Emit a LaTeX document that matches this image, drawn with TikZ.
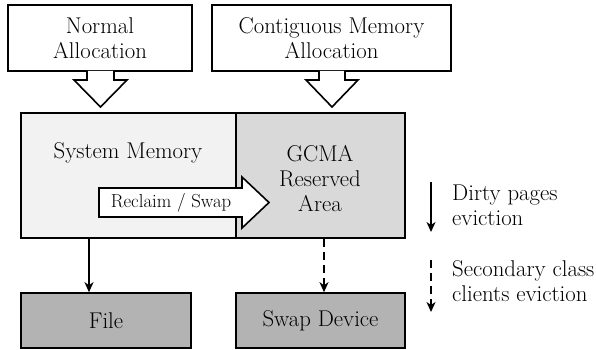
\documentclass[tikz,border=0pt]{standalone}
\usetikzlibrary{arrows.meta}
\definecolor{sysfill}{HTML}{F2F2F2}
\definecolor{gcmafill}{HTML}{D9D9D9}
\definecolor{devfill}{HTML}{B3B3B3}
\begin{document}
\begin{tikzpicture}[x=1pt,y=-1pt,
  txt/.style={font=\fontsize{22.8}{25}\selectfont},
  box/.style={txt, draw, line width=1.6pt, inner sep=0pt, align=center},
  blockarrow/.style={draw, fill=white, line width=1.6pt, line join=miter},
  arr/.style={line width=1.6pt, -{Stealth[length=10pt,width=9pt,inset=3pt]}},
  dasharr/.style={arr, dash pattern=on 8pt off 5pt},
  lbl/.style={txt, align=left, anchor=west, inner sep=0pt}]
\useasboundingbox (0,0) rectangle (596,350);
% top boxes
\node[box, minimum width=184pt, minimum height=66pt] (na) at (100,38) {Normal\\Allocation};
\node[box, minimum width=239pt, minimum height=66pt] (ca) at (331.5,38) {Contiguous Memory\\Allocation};
% memory
\node[box, fill=sysfill, minimum width=215pt, minimum height=125pt] (sys) at (128.5,175.5) {};
\node[box, fill=gcmafill, minimum width=169pt, minimum height=125pt] (gcma) at (320.5,175.5) {};
\node[txt] (systxt) at (128,153) {System Memory};
\node[txt, align=center, inner sep=0pt] (gcmatxt) at (320,179) {GCMA\\Reserved\\Area};
% block arrows down
\draw[blockarrow] (87,71) -- (87,80) -- (74,80) -- (100.5,107) -- (127,80) -- (114,80) -- (114,71);
\draw[blockarrow] (319,71) -- (319,80) -- (306,80) -- (332,107) -- (358,80) -- (345,80) -- (345,71);
% reclaim arrow
\draw[blockarrow] (99,188) -- (242,188) -- (242,177) -- (269,202.5) -- (242,228) -- (242,217) -- (99,217) -- cycle;
\node[font=\fontsize{18.8}{22}\selectfont, inner sep=0pt] (rs) at (171,202.5) {Reclaim / Swap};
% bottom boxes
\node[box, fill=devfill, minimum width=170pt, minimum height=55pt] (fl) at (106,320.5) {File};
\node[box, fill=devfill, minimum width=169pt, minimum height=55pt] (sd) at (320.5,320.5) {Swap Device};
% connectors
\draw[arr] ([xshift=-39.5pt]sys.south) -- ([xshift=-17pt]fl.north);
\draw[dasharr] ([xshift=3.5pt]gcma.south) -- ([xshift=3.5pt]sd.north);
% legend
\coordinate (l1a) at (431,182);
\coordinate (l1b) at (431,232);
\coordinate (l2a) at (431,260);
\coordinate (l2b) at (431,312);
\draw[arr] (l1a) -- (l1b);
\draw[dasharr] (l2a) -- (l2b);
\node[lbl] (t1) at (452,205.5) {Dirty pages\\eviction};
\node[lbl] (t2) at (452,281) {Secondary class\\clients eviction};
\end{tikzpicture}
\end{document}
